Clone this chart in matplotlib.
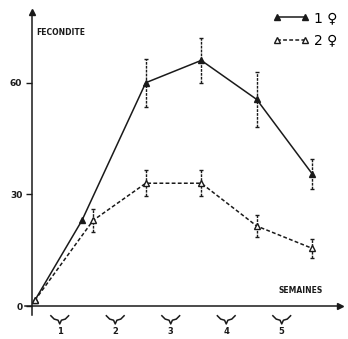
import matplotlib
matplotlib.use("Agg")
import matplotlib.pyplot as plt

# ---- data ----
week_labels = ["1", "2", "3", "4", "5"]
week_centers = [0.5, 1.5, 2.5, 3.5, 4.5]
x_s1 = [0.05, 0.9, 2.05, 3.05, 4.05, 5.05]
x_s2 = [0.05, 1.1, 2.05, 3.05, 4.05, 5.05]
fec_s1 = [1.5, 23, 60, 66, 55.5, 35.5]
fec_s2 = [1.5, 23, 33, 33, 21.5, 15.5]
err_s1 = [0, 0, 6.5, 6, 7.5, 4]
err_s2 = [0, 3, 3.5, 3.5, 3, 2.5]
y_ticks = [0, 30, 60]
series_labels = ["1 \u2640", "2 \u2640"]

plt.rcParams['font.family'] = ['DejaVu Sans']
fig = plt.figure(figsize=(3.48, 3.39), dpi=100)
ax = fig.add_axes([25/348, 24/339, 315/348, 303/339])
ax.set_xlim(-0.126, 5.55)
ax.set_ylim(-2.4, 79)

ink = "#1a1a1a"
for s in ["top", "right"]:
    ax.spines[s].set_visible(False)
ax.spines["left"].set_position(("data", 0))
ax.spines["bottom"].set_position(("data", 0))
for s in ["left", "bottom"]:
    ax.spines[s].set_color(ink)
    ax.spines[s].set_linewidth(1.1)

# arrow heads
ax.plot(1, 0, marker=">", color=ink, markersize=5, transform=ax.get_yaxis_transform(), clip_on=False)
ax.plot(0, 1, marker="^", color=ink, markersize=5, transform=ax.get_xaxis_transform(), clip_on=False)

# series
ax.plot(x_s1, fec_s1, color=ink, lw=1.1, ls="-", marker="^", markersize=5,
        markerfacecolor=ink, markeredgecolor=ink, label=series_labels[0], zorder=3)
ax.plot(x_s2, fec_s2, color=ink, lw=1.1, ls=(0, (2.5, 1.5)), marker="^", markersize=5,
        markerfacecolor="white", markeredgecolor=ink, markeredgewidth=1.0,
        label=series_labels[1], zorder=3)

for xs, ys, es in [(x_s1, fec_s1, err_s1), (x_s2, fec_s2, err_s2)]:
    xe = [x for x, e in zip(xs, es) if e > 0]
    ye = [y for y, e in zip(ys, es) if e > 0]
    ee = [e for e in es if e > 0]
    eb = ax.errorbar(xe, ye, yerr=ee, fmt="none", ecolor=ink, elinewidth=1.0,
                     capsize=1.5, capthick=1.0, zorder=2)
    eb[2][0].set_linestyle((0, (2, 0.8)))

# ticks
ax.set_yticks(y_ticks)
ax.set_yticklabels([str(v) for v in y_ticks], fontsize=6.5, fontweight="bold", color=ink)
ax.tick_params(axis="y", direction="out", length=4, width=1, color=ink, pad=3)
ax.set_xticks(week_centers)
ax.set_xticklabels(week_labels, fontsize=6, fontweight="bold", color=ink)
ax.tick_params(axis="x", length=0, pad=15)

# brace decorations under each week
bx = [-0.16, -0.1, -0.03, 0.0, 0.03, 0.1, 0.16]
by = [-2.6, -3.5, -3.8, -4.8, -3.8, -3.5, -2.6]
for c in week_centers:
    ax.plot([c + d for d in bx], by, color=ink, lw=1.1, clip_on=False)

ax.text(0.08, 73.4, "FECONDITE", fontsize=5.5, fontweight="bold", color=ink,
        va="center", ha="left")
ax.text(4.45, 4.3, "SEMAINES", fontsize=5.5, fontweight="bold", color=ink,
        va="center", ha="left")

ax.legend(loc="upper right", bbox_to_anchor=(1.0, 1.0), bbox_transform=fig.transFigure,
          frameon=False, numpoints=2, handlelength=2.6, fontsize=10,
          handletextpad=0.3, labelspacing=0.6, borderpad=0.3)

fig.savefig("out.png", dpi=100)
